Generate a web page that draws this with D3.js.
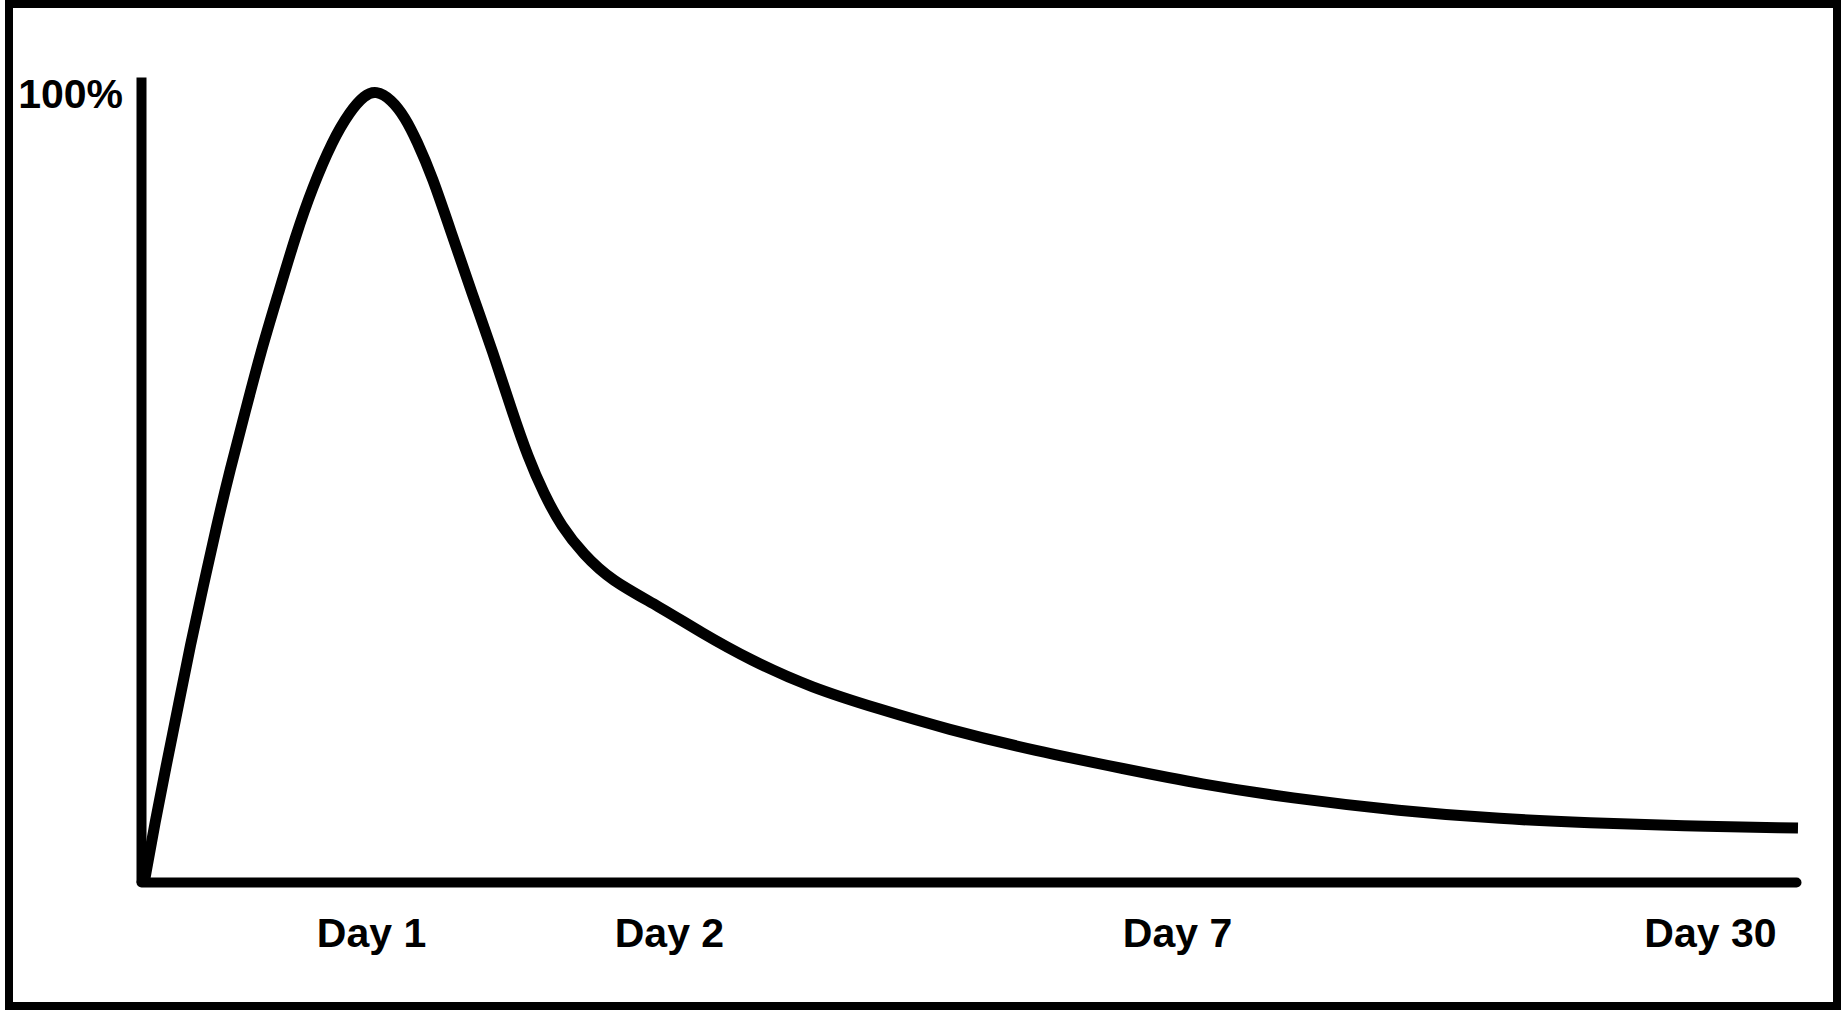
<!DOCTYPE html>
<html>
<head>
<meta charset="utf-8">
<script src="https://cdn.jsdelivr.net/npm/d3@7"></script>
<style>
  html, body { margin: 0; padding: 0; background: #fff; }
  svg { display: block; }
</style>
</head>
<body>
<svg id="chart" width="1841" height="1010"></svg>
<script>
// ---- data (x: relative position along the time axis 0–100, y: percent of peak) ----
const curveX = [0.2, 0.85, 1.55, 2.27, 2.97, 3.75, 4.53, 5.38, 6.31, 7.23, 8.30, 9.36, 10.35,
                11.56, 12.62, 13.5, 14.2,
                15.11, 15.96, 16.67, 17.59, 18.79, 20.0, 21.27, 22.41, 23.40, 24.33, 25.39,
                26.74, 28.37, 31.36, 33.78, 36.80, 40.54, 44.59, 48.64, 54.08, 59.46,
                63.99, 69.43, 76.07, 82.24, 87.55, 92.93, 100.12];
const curveY = [0, 7.59, 15.03, 22.47, 29.91, 37.36, 44.80, 52.24, 59.69, 67.13, 74.57, 82.01, 87.95,
                93.90, 97.63, 99.7, 100.3,
                99.2, 96.88, 93.90, 89.44, 82.01, 74.57, 67.13, 59.69, 53.72, 49.25, 45.08,
                41.51, 38.24, 34.85, 31.68, 28.13, 24.58, 21.92, 19.39, 16.60, 14.32,
                12.42, 10.64, 9.00, 7.98, 7.48, 7.10, 6.84];
const xTickValues = [13.9, 31.9, 62.6, 94.8];
const xTickLabels = ["Day 1", "Day 2", "Day 7", "Day 30"];
const yTickValues = [100];
const yTickLabels = ["100%"];

// ---- layout ----
const svg = d3.select("#chart");
const W = 1841, H = 1010;

// frame
svg.append("rect")
  .attr("x", 9).attr("y", 4)
  .attr("width", W - 13).attr("height", H - 8)
  .attr("fill", "#fff")
  .attr("stroke", "#000")
  .attr("stroke-width", 8);

const x = d3.scaleLinear().domain([0, 100]).range([141, 1796]);
const y = d3.scaleLinear().domain([0, 102]).range([882, 77]);

const fontFamily = "'Liberation Sans', Arial, sans-serif";

// y axis
const yAxis = svg.append("g")
  .attr("transform", `translate(${x(0)},0)`)
  .call(d3.axisLeft(y)
    .tickValues(yTickValues)
    .tickFormat((d, i) => yTickLabels[i])
    .tickSize(0)
    .tickSizeOuter(0)
    .tickPadding(18));
yAxis.select(".domain")
  .attr("stroke", "#000")
  .attr("stroke-width", 10)
  .attr("stroke-linecap", "butt");
yAxis.selectAll(".tick text")
  .attr("fill", "#000")
  .attr("font-family", fontFamily)
  .attr("font-weight", "bold")
  .attr("font-size", 41)
  .attr("dy", "0.36em");

// x axis
const xAxis = svg.append("g")
  .attr("transform", `translate(0,${y(0)})`)
  .call(d3.axisBottom(x)
    .tickValues(xTickValues)
    .tickFormat((d, i) => xTickLabels[i])
    .tickSize(0)
    .tickSizeOuter(0));
xAxis.select(".domain")
  .attr("stroke", "#000")
  .attr("stroke-width", 10)
  .attr("stroke-linecap", "round");
xAxis.selectAll(".tick text")
  .attr("fill", "#000")
  .attr("font-family", fontFamily)
  .attr("font-weight", "bold")
  .attr("font-size", 41)
  .attr("y", 65)
  .attr("dy", 0);

// curve
const points = curveX.map((v, i) => [v, curveY[i]]);
const line = d3.line()
  .x(d => x(d[0]))
  .y(d => y(d[1]))
  .curve(d3.curveBasis);

svg.append("path")
  .datum(points)
  .attr("d", line)
  .attr("fill", "none")
  .attr("stroke", "#000")
  .attr("stroke-width", 11)
  .attr("stroke-linejoin", "round")
  .attr("stroke-linecap", "butt");
</script>
</body>
</html>
